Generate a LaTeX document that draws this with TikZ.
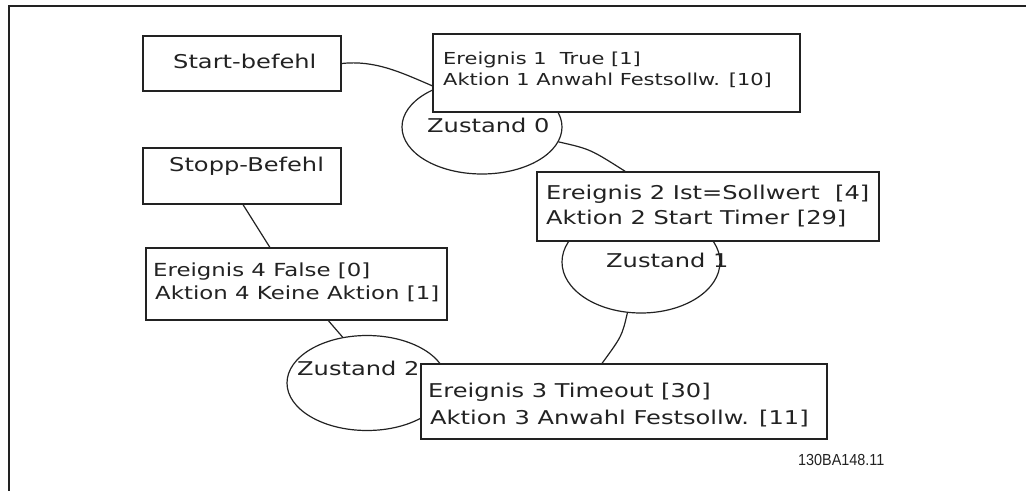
\documentclass[tikz,border=0pt]{standalone}
\usepackage{fontspec}
\usetikzlibrary{shapes.geometric}
\newfontfamily\wf[FakeStretch=1.27]{DejaVu Sans}
\newfontfamily\nf[FakeStretch=0.9]{Liberation Sans}
\definecolor{ink}{HTML}{222222}
\begin{document}
\begin{tikzpicture}[x=1pt,y=-1pt,
  box/.style={draw=ink,fill=white,line width=1.2pt,rectangle,inner sep=0pt},
  state/.style={draw=ink,line width=1.2pt,ellipse,inner sep=0pt},
  conn/.style={draw=ink,line width=1.2pt},
  txt/.style={anchor=base west,inner sep=0pt,text=ink,font=\wf\fontsize{19}{22}\selectfont},
  smalltxt/.style={txt,font=\wf\fontsize{16.5}{20}\selectfont},
  midtxt/.style={txt,font=\wf\fontsize{18}{21}\selectfont},
  code/.style={anchor=base west,inner sep=0pt,text=ink,font=\nf\fontsize{16}{18}\selectfont}]
\useasboundingbox (0,0) rectangle (1026,491);
% frame
\coordinate (ftl) at (9,6);
\coordinate (ftr) at (1026,6);
\coordinate (fbl) at (9,491);
\draw[ink,line width=1.5pt] (ftr) -- (ftl) -- (fbl);
% states
\node[state,minimum width=160pt,minimum height=94pt] (z0) at (482,127) {};
\node[state,minimum width=158pt,minimum height=102pt] (z1) at (641,262) {};
\node[state,minimum width=160pt,minimum height=95pt] (z2) at (367,383) {};
% boxes
\node[box,minimum width=198pt,minimum height=55pt] (start) at (242,63.5) {};
\node[box,minimum width=198pt,minimum height=56pt] (stopp) at (242,176) {};
\node[box,minimum width=367pt,minimum height=78pt] (ev1) at (616.5,73) {};
\node[box,minimum width=342pt,minimum height=69pt] (ev2) at (708,206.5) {};
\node[box,minimum width=301pt,minimum height=72pt] (ev4) at (296.5,284) {};
\node[box,minimum width=406pt,minimum height=75pt] (ev3) at (624,401.5) {};
% connectors
\draw[conn] (start.east) .. controls (375,60) and (400,72) .. (ev1.184);
\draw[conn] (z0.-11) .. controls (590,149) .. (ev2.157);
\draw[conn] (z1.255) .. controls (622,336) .. (ev3.120);
\draw[conn] (stopp.272) -- (ev4.126);
\draw[conn] (ev4.311) -- (z2.118);
% texts
\node[txt] (tstart) at (173,68) {Start-befehl};
\node[txt] (tstopp) at (169,171) {Stopp-Befehl};
\node[smalltxt] (tev1a) at (443,64) {Ereignis 1\ \ True [1]};
\node[smalltxt] (tev1b) at (443,85) {Aktion 1 Anwahl Festsollw. [10]};
\node[txt] (tz0) at (427,132) {Zustand 0};
\node[txt] (tev2a) at (546,199) {Ereignis 2 Ist=Sollwert\ \ [4]};
\node[txt] (tev2b) at (546,224) {Aktion 2 Start Timer [29]};
\node[txt] (tz1) at (606,267) {Zustand 1};
\node[midtxt] (tev4a) at (153,276) {Ereignis 4 False [0]};
\node[midtxt] (tev4b) at (155,299) {Aktion 4 Keine Aktion [1]};
\node[txt] (tz2) at (297,375) {Zustand 2};
\node[txt] (tev3a) at (428,397) {Ereignis 3 Timeout [30]};
\node[txt] (tev3b) at (430,424) {Aktion 3 Anwahl Festsollw. [11]};
\node[code] (tid) at (798,465) {130BA148.11};
\end{tikzpicture}
\end{document}
